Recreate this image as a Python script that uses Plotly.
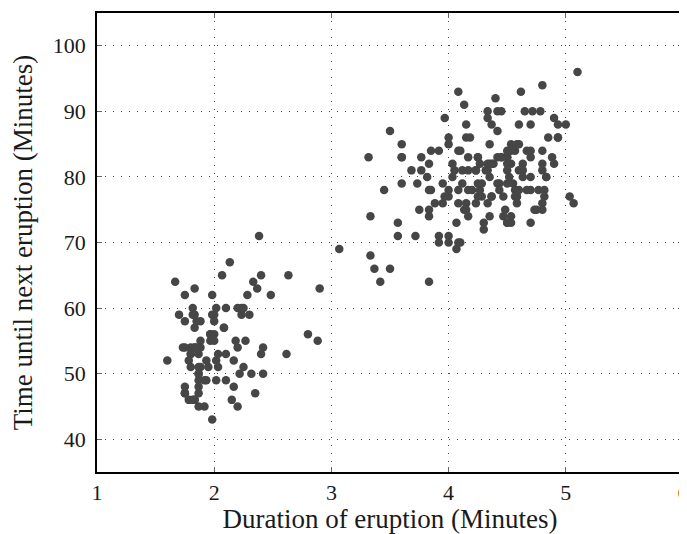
import plotly.graph_objects as go

eruptions = [3.600,1.800,3.333,2.283,4.533,2.883,4.700,3.600,1.950,4.350,1.833,3.917,4.200,1.750,4.700,2.167,1.750,4.800,1.600,4.250,
1.800,1.750,3.450,3.067,4.533,3.600,1.967,4.083,3.850,4.433,4.300,4.467,3.367,4.033,3.833,2.017,1.867,4.833,1.833,4.783,
4.350,1.883,4.567,1.750,4.533,3.317,3.833,2.100,4.633,2.000,4.800,4.716,1.833,4.833,1.733,4.883,3.717,1.667,4.567,4.317,
2.233,4.500,1.750,4.800,1.817,4.400,4.167,4.700,2.067,4.700,4.033,1.967,4.500,4.000,1.983,5.067,2.017,4.567,3.883,3.600,
4.133,4.333,4.100,2.633,4.067,4.933,3.950,4.517,2.167,4.000,2.200,4.333,1.867,4.817,1.833,4.300,4.667,3.750,1.867,4.900,
2.483,4.367,2.100,4.500,4.050,1.867,4.700,1.783,4.850,3.683,4.733,2.300,4.900,4.417,1.700,4.633,2.317,4.600,1.817,4.417,
2.617,4.067,4.250,1.967,4.600,3.767,1.917,4.500,2.267,4.650,1.867,4.167,2.800,4.333,1.833,4.383,1.883,4.933,2.033,3.733,
4.233,2.233,4.533,4.817,4.333,1.983,4.633,2.017,5.100,1.800,5.033,4.000,2.400,4.600,3.567,4.000,4.500,4.083,1.800,3.967,
2.200,4.150,2.000,3.833,3.500,4.583,2.367,5.000,1.933,4.617,1.917,2.083,4.583,3.333,4.167,4.333,4.500,2.417,4.000,4.167,
1.883,4.583,4.250,3.767,2.033,4.433,4.083,1.833,4.417,2.183,4.800,1.833,4.800,4.100,3.966,4.233,3.500,4.366,2.250,4.667,
2.100,4.350,4.133,1.867,4.600,1.783,4.367,3.850,1.933,4.500,2.383,4.700,1.867,3.833,3.417,4.233,2.400,4.800,2.000,4.150,
1.867,4.267,1.750,4.483,4.000,4.117,4.083,4.267,3.917,4.550,4.083,2.417,4.183,2.217,4.450,1.883,1.850,4.283,3.950,2.333,
4.150,2.350,4.933,2.900,4.583,3.833,2.083,4.367,2.133,4.350,2.200,4.450,3.567,4.500,4.150,3.817,3.917,4.450,2.000,4.283,
4.767,4.533,1.850,4.250,1.983,2.250,4.750,4.117,2.150,4.417,1.817,4.467]

waiting = [79,54,74,62,85,55,88,85,51,85,54,84,78,47,83,52,62,84,52,79,
51,47,78,69,74,83,55,76,78,79,73,77,66,80,74,52,48,80,59,90,
80,58,84,58,73,83,64,53,82,59,75,90,54,80,54,83,71,64,77,81,
59,84,48,82,60,92,78,78,65,73,82,56,79,71,62,76,60,78,76,83,
75,82,70,65,73,88,76,80,48,86,60,90,50,78,63,72,84,75,51,82,
62,88,49,83,81,47,84,52,86,81,75,59,89,79,59,81,50,85,59,87,
53,69,77,56,88,81,45,82,55,90,45,83,56,89,46,82,51,86,53,79,
81,60,82,77,76,59,80,49,96,53,77,77,65,81,71,70,81,93,53,89,
45,86,58,78,66,76,63,88,52,93,49,57,77,68,81,81,73,50,85,74,
55,77,83,83,51,78,84,46,83,55,81,57,76,84,77,81,87,77,51,78,
60,82,91,53,78,46,77,84,49,83,71,80,49,75,64,76,53,94,55,76,
50,82,54,75,78,79,78,78,70,79,70,54,86,50,90,54,54,77,79,64,
75,47,86,63,85,82,57,82,67,74,54,83,73,73,88,80,71,83,56,79,
78,84,58,83,43,60,75,81,46,90,46,74]

x_ticks = [1, 2, 3, 4, 5, 6]
y_ticks = [40, 50, 60, 70, 80, 90, 100]

font_family = "Liberation Serif, DejaVu Serif, serif"
text_color = "#1a1a1a"

fig = go.Figure()
fig.add_trace(go.Scatter(
    x=eruptions, y=waiting, mode="markers",
    marker=dict(size=8.5, color="#464646", line=dict(width=0)),
    showlegend=False,
))

axis_common = dict(
    showline=True, linecolor="black", linewidth=1.5, mirror="ticks",
    showgrid=True, gridcolor="#444444", griddash="1px,7px", gridwidth=1,
    ticks="inside", ticklen=5, tickcolor="#666666", tickwidth=1,
    zeroline=False, automargin=False, ticklabeloverflow="allow",
    tickfont=dict(family=font_family, size=22, color=text_color),
)

fig.update_xaxes(
    range=[1, 6], tickvals=x_ticks, ticklabelstandoff=0,
    title=dict(text="Duration of eruption (Minutes)", font=dict(family=font_family, size=27, color=text_color), standoff=8),
    **axis_common,
)
fig.update_yaxes(
    range=[35, 105], tickvals=y_ticks, ticklabelstandoff=5,
    title=dict(text="Time until next eruption (Minutes)", font=dict(family=font_family, size=27, color=text_color), standoff=18),
    **axis_common,
)

fig.update_layout(
    width=679, height=526,
    margin=dict(l=89, r=4, t=5, b=62),
    plot_bgcolor="white", paper_bgcolor="white",
)

fig.write_html("out.html")
